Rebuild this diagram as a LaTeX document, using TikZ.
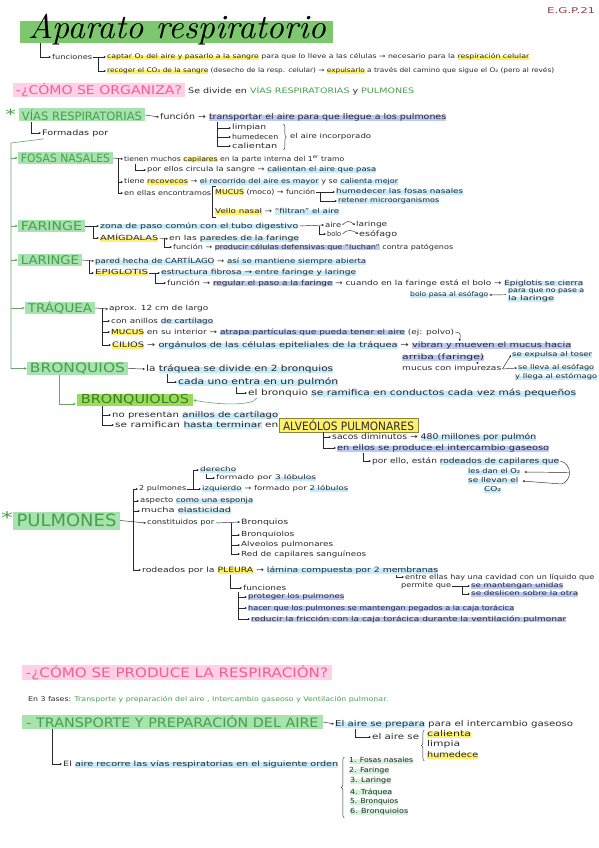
\documentclass[tikz,border=0pt]{standalone}
\usepackage{fontspec}
\usepackage{graphicx}
\usetikzlibrary{arrows.meta,calc,decorations.pathreplacing}
\newfontfamily\hw{DejaVu Sans}
\definecolor{ink}{RGB}{40,40,48}
\definecolor{tgreen}{RGB}{125,200,110}
\definecolor{sgreen}{RGB}{168,226,175}
\definecolor{gtext}{RGB}{70,160,75}
\definecolor{gline}{RGB}{105,165,105}
\definecolor{bgreen}{RGB}{155,220,85}
\definecolor{btext}{RGB}{60,125,45}
\definecolor{pinkhl}{RGB}{255,208,230}
\definecolor{pinktext}{RGB}{242,95,150}
\definecolor{yel}{RGB}{255,240,105}
\definecolor{cy}{RGB}{198,236,250}
\definecolor{pb}{RGB}{188,202,245}
\definecolor{lg}{RGB}{212,242,216}
\definecolor{egp}{RGB}{150,65,70}
\newsavebox\hlb
\newcommand\hlt[2]{\sbox\hlb{#2}\rlap{\textcolor{#1}{\rule[-0.35ex]{\wd\hlb}{1.3ex}}}\usebox\hlb}
% \Tx[size]{width}{text}: fixed height, stretched to width
\newcommand\Tx[3][7]{\resizebox{#2pt}{\height}{\hw\fontsize{#1}{#1}\selectfont\color{ink}#3}}
\newcommand\Hd[4][9]{\resizebox{#2pt}{\height}{\hw\fontsize{#1}{#1}\selectfont\color{#3}#4}}
\begin{document}
\begin{tikzpicture}[x=1pt,y=-1pt,
  tx/.style={anchor=west, inner sep=1pt},
  hd/.style={inner sep=0pt, anchor=center},
  arr/.style={draw=ink, line width=0.45pt, -{Stealth[length=2.4pt,width=2.2pt]}},
  ln/.style={draw=ink, line width=0.45pt},
  garr/.style={draw=gline, line width=0.6pt, -{Stealth[length=3pt,width=2.6pt]}},
  gln/.style={draw=gline, line width=0.6pt},
  brc/.style={draw=ink, line width=0.45pt, decorate, decoration={brace, amplitude=3pt}}]
\fill[white] (0,0) rectangle (599,848);
\useasboundingbox (0,0) rectangle (599,848);

% ---------- title ----------
\node[hd, fill=tgreen, minimum width=313pt, minimum height=22pt] (title) at (176.5,32) {};
\node[hd] (ttext) at (177,30) {\resizebox{298pt}{!}{\itshape Aparato respiratorio}};
\node[tx] (egp) at (546,11) {\Hd[8]{48}{egp}{E.G.P.21}};

\node[tx] (fun) at (51,57) {\Tx[6.8]{40}{funciones}};
\node[tx] (cap1) at (106,57) {\Tx[6.3]{422}{\hlt{yel}{captar O₂ del aire y pasarlo a la sangre} para que lo lleve a las células → necesario para la \hlt{yel}{respiración celular}}};
\node[tx] (cap2) at (106,71) {\Tx[6.3]{447}{\hlt{yel}{recoger el CO₂ de la sangre} (desecho de la resp. celular) → \hlt{yel}{expulsarlo} a través del camino que sigue el O₂ (pero al revés)}};
\draw[arr] ([xshift=20pt]title.south west) |- (fun.west);
\draw[arr] (fun.east) -- (cap1.west);
\draw[arr] ([xshift=5pt]fun.east) |- (cap2.west);

% ---------- como se organiza ----------
\node[hd, fill=pinkhl, minimum width=172pt, minimum height=13pt] (org) at (99,90) {\Hd[12]{166}{pinktext}{-¿CÓMO SE ORGANIZA?}};
\node[tx] (div) at (187,91) {\Tx[7.5]{226}{Se divide en {\color{gtext}VÍAS RESPIRATORIAS} y {\color{gtext}PULMONES}}};

% ---------- vias respiratorias ----------
\node[tx] (st1) at (4,114) {\Hd[14]{11}{gtext}{*}};
\node[hd, fill=sgreen, minimum width=126pt, minimum height=13pt] (vias) at (82,115) {\Hd[11.5]{120}{gtext}{VÍAS RESPIRATORIAS}};
\node[tx] (vfun) at (159,117) {\Tx[8]{286}{función → \hlt{pb}{transportar el aire para que llegue a los pulmones}}};
\draw[arr] (vias.east) -- (vfun.west);
\node[tx] (form) at (41,133) {\Tx[7.5]{66}{Formadas por}};
\draw[arr] ([xshift=12pt]vias.south west) |- (form.west);
\node[tx] (limp) at (231,128) {\Tx[7.2]{34}{limpian}};
\node[tx] (hum) at (231,137) {\Tx[7.2]{46}{humedecen}};
\node[tx] (cal) at (231,146) {\Tx[7.2]{45}{calientan}};
\draw[arr] ([xshift=58pt]vfun.south west) |- (limp.west);
\draw[arr] ([xshift=58pt]vfun.south west) |- (hum.west);
\draw[arr] ([xshift=58pt]vfun.south west) |- (cal.west);
\draw[brc] ($(hum.east)+(4,-13)$) -- ($(hum.east)+(4,13)$);
\node[tx] (airinc) at (289,137) {\Tx[6.8]{81}{el aire incorporado}};

% green trunk
\coordinate (gtop) at (11,143);
\coordinate (gbot) at (11,369);
\draw[gln] ($(form.south west)+(3,1)$) -- (gtop) -- (gbot);

% ---------- fosas nasales ----------
\node[hd, fill=sgreen, minimum width=95pt, minimum height=12pt] (fos) at (65.5,158) {\Hd[11.5]{89}{gtext}{FOSAS NASALES}};
\draw[garr] (gtop |- fos.west) -- (fos.west);
\node[tx] (fos1) at (123,159) {\Tx[6.8]{220}{tienen muchos \hlt{yel}{capilares} en la parte interna del 1\textsuperscript{er} tramo}};
\node[tx] (fos2) at (146,170) {\Tx[6.8]{229}{por ellos circula la sangre → \hlt{cy}{calientan el aire que pasa}}};
\node[tx] (rec) at (123,182) {\Tx[6.8]{274}{tiene \hlt{yel}{recovecos} → \hlt{cy}{el recorrido del aire es mayor} y se \hlt{cy}{calienta mejor}}};
\node[tx] (enc) at (123,193) {\Tx[6.8]{87}{en ellas encontramos}};
\draw[arr] (fos.east) -- (fos1.west);
\draw[arr] ([xshift=5pt]fos.east) |- (rec.west);
\draw[arr] ([xshift=5pt]fos.east) |- (enc.west);
\draw[arr] ([xshift=12pt]fos1.south west) |- (fos2.west);
\node[tx] (muc) at (214,192) {\Tx[7]{100}{\hlt{yel}{MUCUS} (moco) → función}};
\node[tx] (hum2) at (335,192) {\Tx[6.8]{127}{\hlt{cy}{humedecer las fosas nasales}}};
\node[tx] (ret) at (337,201) {\Tx[6.8]{101}{\hlt{cy}{retener microorganismos}}};
\draw[arr] (muc.east) -- (hum2.west);
\draw[arr] ($(muc.east)+(4,0)$) |- (ret.west);
\node[tx] (vel) at (214,212) {\Tx[6.8]{124}{\hlt{yel}{Vello nasal} → \hlt{cy}{“filtran” el aire}}};
\draw[ln] ($(muc.west)+(1.5,-6)$) -- ($(muc.west)+(-1.5,-6)$) -- ($(vel.west)+(-1.5,5)$) -- ($(vel.west)+(1.5,5)$);

% ---------- faringe ----------
\node[hd, fill=sgreen, minimum width=67pt, minimum height=12pt] (far) at (51.5,226) {\Hd[12]{61}{gtext}{FARINGE}};
\draw[garr] (gtop |- far.west) -- (far.west);
\node[tx] (far1) at (99,226) {\Tx[7]{198}{\hlt{cy}{zona de paso común con el tubo digestivo}}};
\draw[arr] (far.east) -- (far1.west);
\node[tx] (aire) at (324,225) {\Tx[7]{16}{aire}};
\node[tx] (bolo) at (326,234) {\Tx[7]{14}{bolo}};
\node[tx] (lar1) at (355,225) {\Tx[7]{31}{laringe}};
\node[tx] (eso) at (358,234) {\Tx[7.5]{38}{esófago}};
\draw[arr] (far1.east) -- (aire.west);
\draw[arr] ($(far1.east)+(20,0)$) |- (bolo.west);
\draw[arr] (aire.east) .. controls ($(aire.east)+(4,-5)$) and ($(lar1.west)+(-5,-4)$) .. (lar1.west);
\draw[arr] (bolo.east) .. controls ($(bolo.east)+(4,-5)$) and ($(eso.west)+(-5,-4)$) .. (eso.west);
\node[tx] (amig) at (99,238) {\Tx[7]{58}{\hlt{yel}{AMÍGDALAS}}};
\draw[arr] ([xshift=8pt]far.east) |- (amig.west);
\node[tx] (am1) at (168,239) {\Tx[7]{130}{en las \hlt{cy}{paredes de la faringe}}};
\node[tx] (am2) at (172,247) {\Tx[6.8]{280}{función → \hlt{pb}{producir células defensivas que “luchan”} contra patógenos}};
\draw[arr] (amig.east) -- (am1.west);
\draw[arr] ([xshift=5pt]amig.east) |- (am2.west);

% ---------- laringe ----------
\node[hd, fill=sgreen, minimum width=64pt, minimum height=12pt] (lar) at (50,260) {\Hd[12]{58}{gtext}{LARINGE}};
\draw[garr] (gtop |- lar.west) -- (lar.west);
\node[tx] (lar1b) at (94,261) {\Tx[7]{271}{\hlt{cy}{pared hecha de CARTÍLAGO} → \hlt{cy}{así se mantiene siempre abierta}}};
\node[tx] (epi) at (94,273) {\Tx[7]{53}{\hlt{yel}{EPIGLOTIS}}};
\draw[arr] (lar.east) -- (lar1b.west);
\draw[arr] ([xshift=7pt]lar.east) |- (epi.west);
\node[tx] (ep1) at (160,273) {\Tx[7]{195}{\hlt{cy}{estructura fibrosa → entre faringe y laringe}}};
\node[tx] (ep2) at (166,283) {\Tx[7]{416}{función → \hlt{pb}{regular el paso a la faringe} → cuando en la faringe está el bolo → \hlt{cy}{Epiglotis se cierra}}};
\draw[arr] (epi.east) -- (ep1.west);
\draw[arr] ([xshift=6pt]epi.east) |- (ep2.west);
\node[tx] (ep3) at (507,291) {\Tx[6.5]{76}{\hlt{cy}{para que no pase a}}};
\node[tx] (ep4) at (507,299) {\Tx[6.5]{46}{\hlt{cy}{la laringe}}};
\node[tx] (bolo2) at (409,295) {\Tx[6.5]{78}{\hlt{cy}{bolo pasa al esófago}}};
\draw[arr] ($(ep3.south west)+(-1,0)$) -- (bolo2.east);

% ---------- traquea ----------
\node[hd, fill=sgreen, minimum width=70pt, minimum height=12pt] (tra) at (60,308) {\Hd[12]{64}{gtext}{TRÁQUEA}};
\draw[garr] (gtop |- tra.west) -- (tra.west);
\node[tx] (tr1) at (108,309) {\Tx[7]{99}{aprox. 12 cm de largo}};
\node[tx] (tr2) at (110,321) {\Tx[7]{102}{con anillos \hlt{cy}{de cartílago}}};
\node[tx] (tr3) at (110,332) {\Tx[7]{343}{\hlt{yel}{MUCUS} en su interior → \hlt{pb}{atrapa partículas que pueda tener el aire} (ej: polvo)}};
\node[tx] (tr4) at (111,345) {\Tx[7.5]{459}{\hlt{yel}{CILIOS} → \hlt{cy}{orgánulos de las células epiteliales de la tráquea} → \hlt{pb}{vibran y mueven el mucus hacia}}};
\node[tx] (tr5) at (401,357) {\Tx[7.5]{82}{\hlt{pb}{arriba (faringe)}}};
\draw[arr] (tra.east) -- (tr1.west);
\draw[arr] ([xshift=7pt]tra.east) |- (tr2.west);
\draw[arr] ([xshift=7pt]tra.east) |- (tr3.west);
\draw[arr] ([xshift=7pt]tra.east) |- (tr4.west);
\draw[arr] (tr3.east) .. controls ($(tr3.east)+(6,0)$) and ($(tr3.east)+(5,4)$) .. ($(tr3.east)+(4,9)$);
\node[tx] (imp) at (401,369) {\Tx[7]{99}{mucus con impurezas}};
\draw[arr] ($(tr5.south east)+(-8,0)$) -- ($(imp.north east)+(-25,0)$);
\node[tx] (tos) at (511,355) {\Tx[6.5]{80}{\hlt{cy}{se expulsa al toser}}};
\node[tx] (est1) at (517,368) {\Tx[6.5]{76}{\hlt{cy}{se lleva al esófago}}};
\node[tx] (est2) at (514,377) {\Tx[6.5]{82}{\hlt{cy}{y llega al estómago}}};
\draw[arr] (imp.east) -- (tos.west);
\draw[arr] (imp.east) -- (est1.west);

% ---------- bronquios ----------
\node[hd, fill=sgreen, minimum width=101pt, minimum height=13pt] (bro) at (77.5,368.5) {\Hd[13]{95}{gtext}{BRONQUIOS}};
\draw[garr] (gtop |- bro.west) -- (bro.west);
\node[tx] (br1) at (145,369) {\Tx[8.5]{187}{la \hlt{cy}{tráquea se divide en 2 bronquios}}};
\node[tx] (br2) at (177,382) {\Tx[8.5]{160}{\hlt{cy}{cada uno entra en un pulmón}}};
\node[tx] (br3) at (247,393) {\Tx[8.2]{328}{el bronquio \hlt{cy}{se ramifica en conductos cada vez más pequeños}}};
\draw[arr] (bro.east) -- (br1.west);
\draw[arr] ([xshift=22pt]br1.south west) |- (br2.west);
\draw[arr] ([xshift=59pt]br2.south west) |- (br3.west);

\node[hd, fill=bgreen, minimum width=116pt, minimum height=12pt] (bol) at (135,400) {\Hd[12.5]{108}{btext}{BRONQUIOLOS}};
\draw[gln] ([xshift=32pt]bro.south west) |- ($(bol.west)+(-4,4)$);
\draw[garr] ($(bol.west)+(-7,4)$) -- ($(bol.west)+(-1,4)$);
\draw[garr] ($(br3.west)+(10,5)$) .. controls ($(br3.west)+(6,13)$) and ($(bol.east)+(25,5)$) .. (bol.east);
\node[tx] (bl1) at (111,415) {\Tx[7.8]{166}{no presentan \hlt{cy}{anillos de cartílago}}};
\node[tx] (bl2) at (114,425) {\Tx[7.8]{163}{se ramifican \hlt{cy}{hasta terminar} en}};
\draw[arr] ([xshift=25pt]bol.south west) |- (bl1.west);
\draw[arr] ([xshift=25pt]bol.south west) |- (bl2.west);
\node[hd, fill=yel, draw=yel!55!black, line width=0.4pt, minimum width=139pt, minimum height=14pt] (alv) at (348.5,425) {\Hd[11.5]{131}{ink}{ALVEÓLOS PULMONARES}};
\node[tx] (al1) at (331,437) {\Tx[8]{204}{sacos diminutos → \hlt{cy}{480 millones por pulmón}}};
\node[tx] (al2) at (336,448) {\Tx[7.8]{212}{\hlt{pb}{en ellos se produce el intercambio gaseoso}}};
\draw[arr] ([xshift=-25pt]alv.south) |- (al1.west);
\draw[arr] ([xshift=-25pt]alv.south) |- (al2.west);
\node[tx] (al3) at (371,461) {\Tx[7.5]{187}{por ello, están \hlt{cy}{rodeados de capilares que}}};
\draw[arr] ([xshift=27pt]al2.south west) |- (al3.west);
\node[tx] (o2) at (467,472) {\Tx[6.8]{52}{\hlt{cy}{les dan el O₂}}};
\node[tx] (co1) at (467,481) {\Tx[6.8]{50}{\hlt{cy}{se llevan el}}};
\node[tx] (co2) at (483,490) {\Tx[6.8]{17}{\hlt{cy}{CO₂}}};
\draw[ln] (al3.east) .. controls ($(al3.east)+(12,3)$) and ($(al3.east)+(12,20)$) .. ($(al3.east)+(1,23)$);
\draw[arr] ($(al3.east)+(9,11.5)$) -- ([xshift=3pt]o2.east);
\draw[arr] ($(al3.east)+(1,23)$) -- ([xshift=3pt]co1.east);

% ---------- pulmones ----------
\node[tx] (st2) at (0,518) {\Hd[16]{12}{gtext}{*}};
\node[hd, fill=sgreen, minimum width=107pt, minimum height=18pt] (pul) at (66.5,520.5) {\Hd[17]{100}{gtext}{PULMONES}};
\node[tx] (p2) at (138,489) {\Tx[6.8]{47}{2 pulmones}};
\node[tx] (der) at (199,470) {\Tx[6.3]{36}{\hlt{cy}{derecho}}};
\node[tx] (der2) at (215,478) {\Tx[6.3]{100}{formado por \hlt{cy}{3 lóbulos}}};
\node[tx] (izq) at (201,489) {\Tx[6.5]{146}{\hlt{cy}{izquierdo} → formado por \hlt{cy}{2 lóbulos}}};
\node[tx] (asp) at (139,501) {\Tx[7]{113}{aspecto \hlt{cy}{como una esponja}}};
\node[tx] (muc2) at (140,511) {\Tx[7]{90}{mucha \hlt{cy}{elasticidad}}};
\node[tx] (con) at (146,523) {\Tx[7]{67}{constituidos por}};
\node[tx] (rod) at (141,570) {\Tx[7.3]{296}{rodeados por la \hlt{yel}{PLEURA} → \hlt{cy}{lámina compuesta por 2 membranas}}};
\draw[arr] (pul.east) -- (con.west);
\draw[arr] ($(pul.east)+(13,0)$) |- (p2.west);
\draw[arr] ($(pul.east)+(13,0)$) |- (asp.west);
\draw[arr] ($(pul.east)+(13,0)$) |- (muc2.west);
\draw[arr] ($(pul.east)+(13,0)$) |- (rod.west);
\draw[arr] (p2.east) -- (izq.west);
\draw[arr] ($(p2.east)+(6,0)$) |- (der.west);
\draw[arr] ($(der.south west)+(7,0)$) |- (der2.west);
\node[tx] (c1) at (240,522) {\Tx[7.3]{47}{Bronquios}};
\node[tx] (c2) at (240,535) {\Tx[7]{53}{Bronquiolos}};
\node[tx] (c3) at (240,545) {\Tx[7]{92}{Alveolos pulmonares}};
\node[tx] (c4) at (240,554) {\Tx[7]{125}{Red de capilares sanguíneos}};
\draw[arr] (con.east) -- (c1.west);
\draw[arr] ($(con.east)+(16,0)$) |- (c2.west);
\draw[arr] ($(con.east)+(16,0)$) |- (c3.west);
\draw[arr] ($(con.east)+(16,0)$) |- (c4.west);
\node[tx] (ent) at (404,577) {\Tx[6.8]{189}{entre ellas hay una cavidad con un líquido que}};
\node[tx] (perm) at (400,586) {\Tx[6.8]{50}{permite que}};
\node[tx] (uni) at (470,586) {\Tx[6.5]{92}{\hlt{pb}{se mantengan unidas}}};
\node[tx] (desl) at (470,594) {\Tx[6.5]{107}{\hlt{pb}{se deslicen sobre la otra}}};
\draw[arr] ($(rod.south east)+(-43,0)$) |- (ent.west);
\draw[arr] (perm.east) -- (uni.west);
\draw[arr] ($(perm.east)+(10,0)$) |- (desl.west);
\node[tx] (fun2) at (242,588) {\Tx[7]{43}{funciones}};
\draw[arr] ($(rod.south west)+(89,0)$) |- (fun2.west);
\node[tx] (f1) at (247,597) {\Tx[6.8]{96}{\hlt{pb}{proteger los pulmones}}};
\node[tx] (f2) at (247,608) {\Tx[6.8]{266}{\hlt{pb}{hacer que los pulmones se mantengan pegados a la caja torácica}}};
\node[tx] (f3) at (250,619) {\Tx[6.8]{315}{\hlt{pb}{reducir la fricción con la caja torácica durante la ventilación pulmonar}}};
\draw[arr] ($(fun2.south west)+(-4,0)$) |- (f1.west);
\draw[arr] ($(fun2.south west)+(-4,0)$) |- (f2.west);
\draw[arr] ($(fun2.south west)+(-4,0)$) |- (f3.west);

% ---------- como se produce ----------
\node[hd, fill=pinkhl, minimum width=310pt, minimum height=14pt] (resp) at (177,672.5) {\Hd[13]{302}{pinktext}{-¿CÓMO SE PRODUCE LA RESPIRACIÓN?}};
\node[tx] (fas) at (27,700) {\Tx[6.5]{360}{En 3 fases: {\color{gtext}Transporte y preparación del aire , Intercambio gaseoso y Ventilación pulmonar.}}};
\node[hd, fill=sgreen, minimum width=301pt, minimum height=14pt] (tp) at (172.5,722) {\Hd[13]{292}{gtext}{- TRANSPORTE Y PREPARACIÓN DEL AIRE}};
\node[tx] (tp1) at (334,724) {\Tx[8]{238}{\hlt{cy}{El aire se prepara} para el intercambio gaseoso}};
\draw[arr] (tp.east) -- (tp1.west);
\node[tx] (tp2) at (371,737) {\Tx[8]{47}{el aire se}};
\draw[arr] ([xshift=21pt]tp1.south west) |- (tp2.west);
\draw[brc] ($(tp2.east)+(4,24)$) -- ($(tp2.east)+(4,-7)$);
\node[tx] (cal2) at (426,734) {\Tx[8]{44}{\hlt{yel}{calienta}}};
\node[tx] (lim) at (426,744) {\Tx[8]{33}{limpia}};
\node[tx] (hume) at (426,755) {\Tx[8]{51}{\hlt{yel}{humedece}}};
\node[tx] (recorre) at (62,764) {\Tx[7.3]{275}{El \hlt{cy}{aire recorre las vías respiratorias en el siguiente orden}}};
\draw[arr] ([xshift=30pt]tp.south west) |- (recorre.west);
\draw[brc] ($(recorre.east)+(5,54)$) -- ($(recorre.east)+(5,-7)$);
\node[tx] (l1) at (348,761) {\Tx[7]{64}{\hlt{lg}{1. Fosas nasales}}};
\node[tx] (l2) at (348,771) {\Tx[7]{40}{\hlt{lg}{2. Faringe}}};
\node[tx] (l3) at (349,781) {\Tx[7]{41}{\hlt{lg}{3. Laringe}}};
\node[tx] (l4) at (349,792) {\Tx[7]{42}{\hlt{lg}{4. Tráquea}}};
\node[tx] (l5) at (349,802) {\Tx[7]{48}{\hlt{lg}{5. Bronquios}}};
\node[tx] (l6) at (349,812) {\Tx[7]{58}{\hlt{lg}{6. Bronquiolos}}};
\end{tikzpicture}
\end{document}
